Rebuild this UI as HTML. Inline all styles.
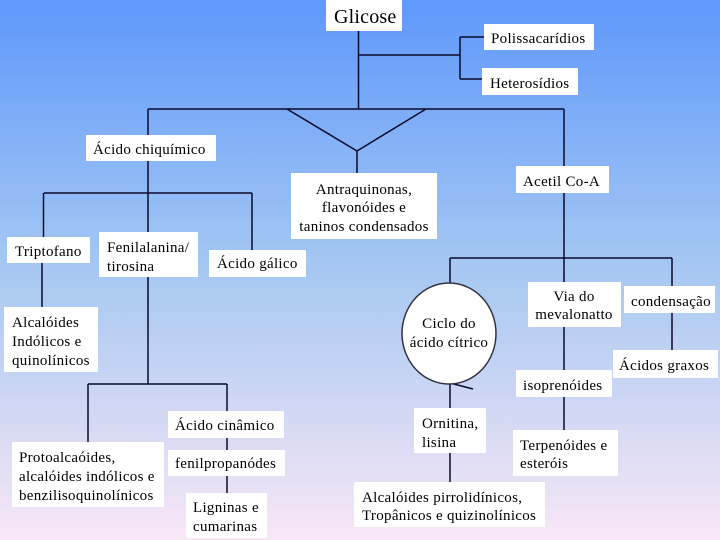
<!DOCTYPE html>
<html><head><meta charset="utf-8"><style>
html,body{margin:0;padding:0;width:720px;height:540px;overflow:hidden;}
svg{display:block;}
text{font-family:"Liberation Serif",serif;font-size:15px;fill:#000;letter-spacing:0.3px;}
</style></head><body>
<svg width="720" height="540" viewBox="0 0 720 540" xmlns="http://www.w3.org/2000/svg">
<defs>
<linearGradient id="bg" x1="0" y1="0" x2="0" y2="1">
<stop offset="0" stop-color="#5f98fc"/>
<stop offset="0.5" stop-color="#a6c8f2"/>
<stop offset="1" stop-color="#f9e7f6"/>
</linearGradient>
</defs>
<rect x="0" y="0" width="720" height="540" fill="url(#bg)"/>

<g stroke="#0a0a2a" stroke-width="1.5" fill="none">
<line x1="358.5" y1="31" x2="358.5" y2="109"/>
<line x1="358.5" y1="55" x2="460" y2="55"/>
<line x1="460" y1="37" x2="460" y2="79"/>
<line x1="460" y1="37" x2="484" y2="37"/>
<line x1="460" y1="79" x2="482" y2="79"/>
<line x1="148" y1="109" x2="564" y2="109"/>
<polyline points="287,109 357,151 426,109"/>
<line x1="357" y1="151" x2="357" y2="173"/>
<line x1="148" y1="109" x2="148" y2="135"/>
<line x1="148" y1="161" x2="148" y2="232"/>
<line x1="44" y1="193" x2="252" y2="193"/>
<line x1="43.5" y1="193" x2="43.5" y2="237"/>
<line x1="252" y1="193" x2="252" y2="250"/>
<line x1="42" y1="263" x2="42" y2="307"/>
<line x1="148" y1="277" x2="148" y2="384"/>
<line x1="88" y1="384" x2="227" y2="384"/>
<line x1="88" y1="384" x2="88" y2="442"/>
<line x1="227" y1="384" x2="227" y2="411"/>
<line x1="227" y1="438" x2="227" y2="450"/>
<line x1="227" y1="476" x2="227" y2="493"/>
<line x1="564" y1="109" x2="564" y2="166"/>
<line x1="564" y1="193" x2="564" y2="282"/>
<line x1="450" y1="258" x2="672" y2="258"/>
<line x1="450" y1="258" x2="450" y2="283"/>
<line x1="672" y1="258" x2="672" y2="286"/>
<line x1="672" y1="313" x2="672" y2="350"/>
<line x1="564" y1="327" x2="564" y2="370"/>
<line x1="564" y1="397" x2="564" y2="430"/>
<line x1="450" y1="383" x2="450" y2="408"/>
<line x1="450" y1="453" x2="450" y2="482"/>
<line x1="450" y1="383" x2="473" y2="389"/>
</g>

<g fill="#ffffff">
<rect x="326" y="0" width="76" height="31"/>
<rect x="484" y="24" width="110" height="26"/>
<rect x="482" y="68" width="96" height="27"/>
<rect x="86" y="135" width="130" height="26"/>
<rect x="291" y="173" width="146" height="66"/>
<rect x="516" y="166" width="93" height="27"/>
<rect x="7" y="237" width="83" height="26"/>
<rect x="99" y="232" width="99" height="45"/>
<rect x="209" y="250" width="97" height="27"/>
<rect x="4" y="307" width="94" height="65"/>
<rect x="12" y="442" width="152" height="65"/>
<rect x="168" y="411" width="116" height="27"/>
<rect x="168" y="450" width="117" height="26"/>
<rect x="186" y="493" width="81" height="45"/>
<rect x="414" y="408" width="72" height="45"/>
<rect x="354" y="482" width="191" height="45"/>
<rect x="528" y="282" width="93" height="45"/>
<rect x="624" y="286" width="91" height="27"/>
<rect x="516" y="370" width="96" height="27"/>
<rect x="513" y="430" width="105" height="46"/>
<rect x="613" y="350" width="105" height="28"/>
</g>
<ellipse cx="449" cy="333.5" rx="47" ry="50.5" fill="#ffffff" stroke="#333344" stroke-width="1.5"/>

<text x="334" y="23" style="font-size:20px;letter-spacing:0.2px">Glicose</text>
<text x="491" y="43">Polissacarídios</text>
<text x="490" y="88">Heterosídios</text>
<text x="93" y="154">Ácido chiquímico</text>
<g text-anchor="middle">
<text x="364" y="194">Antraquinonas,</text>
<text x="364" y="212">flavonóides e</text>
<text x="364" y="231">taninos condensados</text>
<text x="449" y="328">Ciclo do</text>
<text x="449" y="347">ácido cítrico</text>
<text x="574" y="301">Via do</text>
<text x="574" y="319">mevalonatto</text>
</g>
<text x="523" y="186">Acetil Co-A</text>
<text x="15" y="256">Triptofano</text>
<text x="107" y="252">Fenilalanina/</text>
<text x="107" y="271">tirosina</text>
<text x="217" y="268">Ácido gálico</text>
<text x="12" y="327">Alcalóides</text>
<text x="12" y="346">Indólicos e</text>
<text x="12" y="365">quinolínicos</text>
<text x="19" y="462">Protoalcaóides,</text>
<text x="19" y="481">alcalóides indólicos e</text>
<text x="19" y="500">benzilisoquinolínicos</text>
<text x="175" y="430">Ácido cinâmico</text>
<text x="175" y="468">fenilpropanódes</text>
<text x="193" y="512">Ligninas e</text>
<text x="193" y="531">cumarinas</text>
<text x="422" y="428">Ornitina,</text>
<text x="422" y="447">lisina</text>
<text x="362" y="502">Alcalóides pirrolidínicos,</text>
<text x="362" y="520">Tropânicos e quizinolínicos</text>
<text x="631" y="306">condensação</text>
<text x="523" y="390">isoprenóides</text>
<text x="520" y="450">Terpenóides e</text>
<text x="520" y="468">esteróis</text>
<text x="619" y="370">Ácidos graxos</text>
</svg>
</body></html>
